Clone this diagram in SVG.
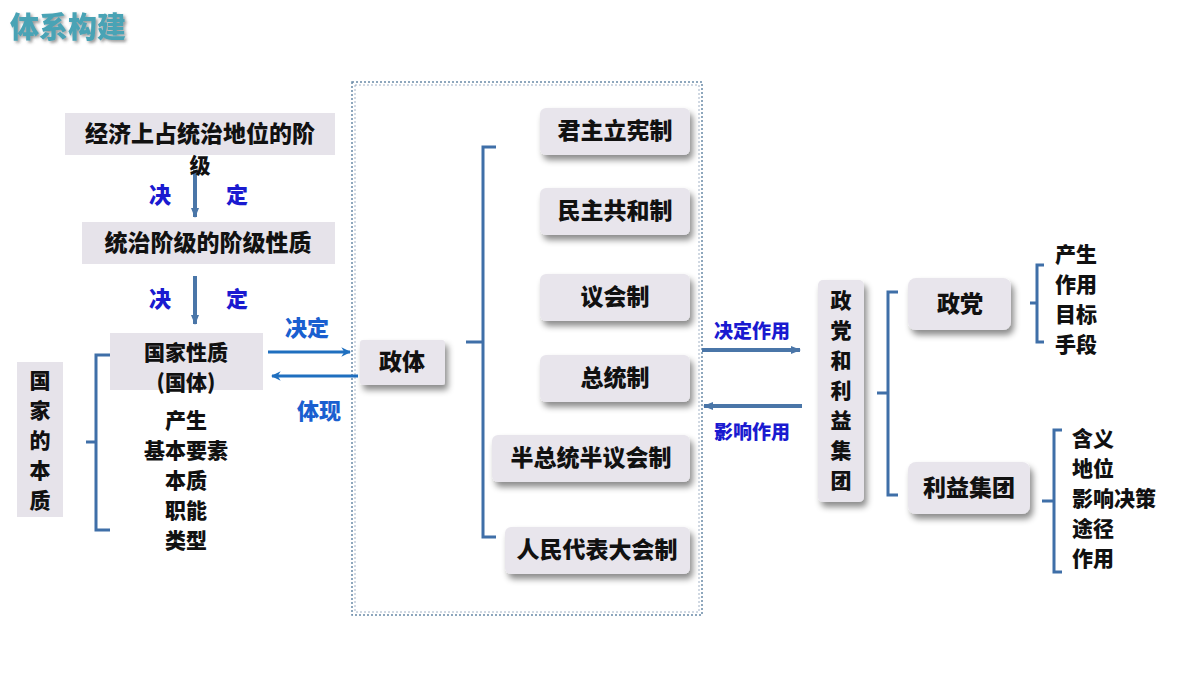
<svg xmlns="http://www.w3.org/2000/svg" width="1200" height="675" viewBox="0 0 1200 675">
<defs>
<filter id="sh" x="-30%" y="-30%" width="160%" height="180%"><feDropShadow dx="3" dy="5" stdDeviation="3" flood-color="#000" flood-opacity="0.45"/></filter>
<filter id="tsh" x="-10%" y="-20%" width="130%" height="160%"><feDropShadow dx="2" dy="2" stdDeviation="1.5" flood-color="#555" flood-opacity="0.6"/></filter>
<marker id="ah" viewBox="0 0 10 10" refX="9" refY="5" markerWidth="3.2" markerHeight="3.2" orient="auto-start-reverse"><path d="M0,0 L10,5 L0,10 L3,5 Z" fill="#1f6fbf"/></marker>
<marker id="ag" viewBox="0 0 10 10" refX="9" refY="5" markerWidth="2.5" markerHeight="2.5" orient="auto-start-reverse"><path d="M0,1 L10,5 L0,9 Z" fill="#4a76a8"/></marker>
</defs>
<style>
text{font-family:"Noto Sans CJK SC","Noto Sans",sans-serif;font-weight:900;fill:#111;font-size:23px}
.s{font-size:21px}
.c{text-anchor:middle}
.flat{fill:#e6e3ea}
.rb{fill:#e8e5ec;filter:url(#sh)}
.lbl{fill:#1a1ad0;font-size:22px}
.br{fill:none;stroke:#3f6fa8;stroke-width:3}
</style>
<rect width="1200" height="675" fill="#fff"/>
<text x="10" y="38" style="fill:#4aa3b5;font-size:29px" filter="url(#tsh)">体系构建</text>
<rect x="352" y="82" width="350" height="533" fill="none" stroke="#6a8aa8" stroke-width="1.5" stroke-dasharray="2,2"/>
<rect x="355" y="85" width="344" height="527" fill="none" stroke="#8aa0b8" stroke-width="0.8" stroke-dasharray="2,2"/>

<g id="connectors">
<line x1="195" y1="170" x2="195" y2="217" stroke="#4a76a8" stroke-width="4" marker-end="url(#ag)"/>
<line x1="195" y1="276" x2="195" y2="324" stroke="#4a76a8" stroke-width="4" marker-end="url(#ag)"/>
<line x1="268" y1="352" x2="350" y2="352" stroke="#1f6fbf" stroke-width="3" marker-end="url(#ah)"/>
<line x1="358" y1="376" x2="272" y2="376" stroke="#1f6fbf" stroke-width="3" marker-end="url(#ah)"/>
<line x1="702" y1="350" x2="800" y2="350" stroke="#4a76a8" stroke-width="4" marker-end="url(#ag)"/>
<line x1="802" y1="406" x2="704" y2="406" stroke="#4a76a8" stroke-width="4" marker-end="url(#ag)"/>
<path class="br" d="M110,355 H96 V530 H110 M96,442 H86"/>
<path class="br" d="M496,147 H483 V537 H496 M483,342 H466"/>
<path class="br" d="M898,292 H888 V495 H898 M888,393 H877"/>
<path class="br" d="M1044,265 H1037 V342 H1044 M1037,303 H1030"/>
<path class="br" d="M1062,430 H1054 V572 H1062 M1054,501 H1042"/>
<text x="160" y="203" class="lbl c">决</text><text x="237" y="203" class="lbl c">定</text>
<text x="160" y="307" class="lbl c">决</text><text x="237" y="307" class="lbl c">定</text>
<text x="307" y="336" class="lbl c" style="fill:#1a5fd0">决定</text>
<text x="319" y="419" class="lbl c" style="fill:#1a5fd0">体现</text>
<text x="752" y="338" class="lbl c" style="font-size:19px">决定作用</text>
<text x="752" y="439" class="lbl c" style="font-size:19px">影响作用</text>
</g>

<g id="n1"><rect class="flat" x="65" y="113" width="270" height="42"/><text x="200" y="142" class="c">经济上占统治地位的阶</text><text x="200" y="173" class="c s">级</text></g>
<g id="n2"><rect class="flat" x="82" y="222" width="253" height="42"/><text x="208" y="251" class="c">统治阶级的阶级性质</text></g>
<g id="n3"><rect class="flat" x="110" y="333" width="153" height="57"/><text x="186" y="360" class="c s">国家性质</text><text x="186" y="390" class="c s">(国体)</text></g>
<g id="n4"><rect class="flat" x="17" y="362" width="46" height="155"/>
<text x="40" y="388" class="c s">国</text><text x="40" y="418" class="c s">家</text><text x="40" y="448" class="c s">的</text><text x="40" y="478" class="c s">本</text><text x="40" y="508" class="c s">质</text></g>
<g id="n5"><text x="186" y="428" class="c s">产生</text><text x="186" y="458" class="c s">基本要素</text><text x="186" y="488" class="c s">本质</text><text x="186" y="518" class="c s">职能</text><text x="186" y="548" class="c s">类型</text></g>
<g id="n6"><rect class="rb" x="360" y="340" width="85" height="45" rx="3"/><text x="402" y="370" class="c">政体</text></g>
<g id="n7"><rect class="rb" x="540" y="108" width="150" height="47" rx="6"/><text x="615" y="139" class="c">君主立宪制</text></g>
<g id="n8"><rect class="rb" x="540" y="188" width="150" height="47" rx="6"/><text x="615" y="219" class="c">民主共和制</text></g>
<g id="n9"><rect class="rb" x="540" y="274" width="150" height="47" rx="6"/><text x="615" y="305" class="c">议会制</text></g>
<g id="n10"><rect class="rb" x="540" y="355" width="150" height="47" rx="6"/><text x="615" y="386" class="c">总统制</text></g>
<g id="n11"><rect class="rb" x="492" y="435" width="198" height="47" rx="6"/><text x="591" y="466" class="c">半总统半议会制</text></g>
<g id="n12"><rect class="rb" x="505" y="527" width="185" height="47" rx="6"/><text x="597" y="558" class="c">人民代表大会制</text></g>
<g id="n13"><rect class="rb" x="818" y="280" width="46" height="222" rx="5"/>
<text x="841" y="308" class="c s">政</text><text x="841" y="338" class="c s">党</text><text x="841" y="368" class="c s">和</text><text x="841" y="398" class="c s">利</text><text x="841" y="428" class="c s">益</text><text x="841" y="458" class="c s">集</text><text x="841" y="488" class="c s">团</text></g>
<g id="n14"><rect class="rb" x="908" y="278" width="103" height="52" rx="8"/><text x="960" y="312" class="c">政党</text></g>
<g id="n15"><rect class="rb" x="908" y="462" width="122" height="52" rx="8"/><text x="969" y="496" class="c">利益集团</text></g>
<g id="n16"><text x="1055" y="262" class="s">产生</text><text x="1055" y="292" class="s">作用</text><text x="1055" y="322" class="s">目标</text><text x="1055" y="352" class="s">手段</text></g>
<g id="n17"><text x="1072" y="446" class="s">含义</text><text x="1072" y="476" class="s">地位</text><text x="1072" y="506" class="s">影响决策</text><text x="1072" y="536" class="s">途径</text><text x="1072" y="566" class="s">作用</text></g>
</svg>
